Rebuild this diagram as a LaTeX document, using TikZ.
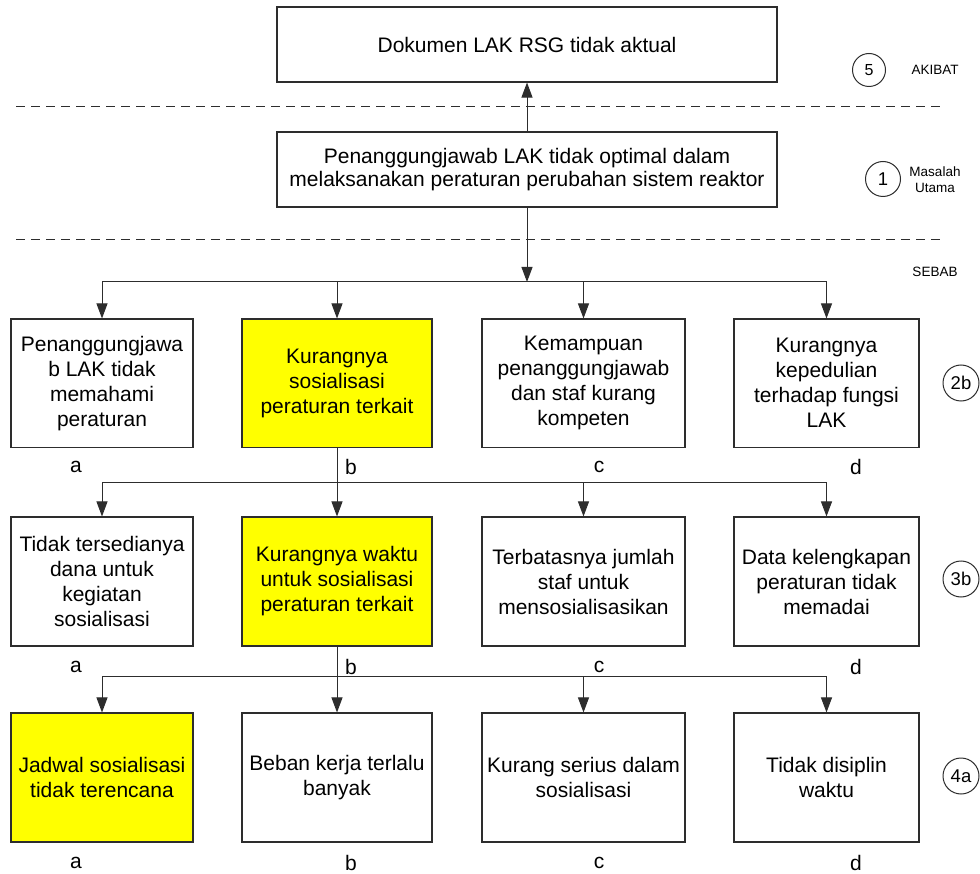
\documentclass[tikz,border=0pt]{standalone}
\usepackage{fontspec}
\setmainfont{Liberation Sans}
\usetikzlibrary{arrows.meta}
\definecolor{ln}{RGB}{45,45,45}
\definecolor{hl}{RGB}{255,255,0}
\begin{document}
\begin{tikzpicture}[x=1pt,y=-1pt,
  box/.style={draw=ln, line width=1.1pt, inner sep=0pt, align=center,
    font=\fontsize{21}{25}\selectfont},
  hlbox/.style={box, fill=hl},
  lbl/.style={inner sep=0pt, font=\fontsize{21}{25}\selectfont},
  num/.style={circle, draw=ln, line width=1pt, inner sep=0pt, minimum size=35pt,
    font=\fontsize{18.5}{20}\selectfont},
  side/.style={inner sep=0pt, align=center, font=\fontsize{13.5}{16}\selectfont},
  conn/.style={draw=ln, line width=1pt},
  arr/.style={conn, -{Triangle[length=15pt,width=11pt]}},
  sep/.style={draw=ln, line width=1pt, dash pattern=on 9pt off 6pt}
]
\useasboundingbox (0,0) rectangle (980,874);
\fill[white] (0,0) rectangle (980,874);

% top boxes
\node[box, minimum width=500pt, minimum height=75pt] (akibat) at (527,44.5) {Dokumen LAK RSG tidak aktual};
\node[box, minimum width=500pt, minimum height=75pt, font=\fontsize{21}{23}\selectfont] (utama) at (527,169.5)
  {Penanggungjawab LAK tidak optimal dalam\\melaksanakan peraturan perubahan sistem reaktor};

% separators
\coordinate (s1a) at (16,107); \coordinate (s1b) at (940,107);
\coordinate (s2a) at (16,240); \coordinate (s2b) at (940,240);
\draw[sep] (s1a) -- (s1b);
\draw[sep] (s2a) -- (s2b);

% side labels
\node[num, minimum size=33pt, font=\fontsize{16}{18}\selectfont] (c5) at (869,70) {5};
\node[side] (tAkibat) at (935,70) {AKIBAT};
\node[num] (c1) at (883,179) {1};
\node[side] (tMasalah) at (935,179.5) {Masalah\\Utama};
\node[side] (tSebab) at (935,272) {SEBAB};
\node[num, minimum size=36pt] (c2b) at (961,383) {2b};
\node[num, minimum size=36pt] (c3b) at (961,579) {3b};
\node[num, minimum size=36pt] (c4a) at (961,776) {4a};

% row 2
\node[box, minimum width=182pt, minimum height=128.5pt] (r2a) at (102,383.25) {Penanggungjawa\\b LAK tidak\\memahami\\peraturan};
\node[hlbox, minimum width=190pt, minimum height=128.5pt] (r2b) at (337,383.25) {Kurangnya\\sosialisasi\\peraturan terkait};
\node[box, minimum width=203pt, minimum height=128.5pt] (r2c) at (583.5,383.25) {Kemampuan\\penanggungjawab\\dan staf kurang\\kompeten};
\node[box, minimum width=185pt, minimum height=128.5pt] (r2d) at (826.5,383.25) {Kurangnya\\kepedulian\\terhadap fungsi\\LAK};

% row 3
\node[box, minimum width=182pt, minimum height=129pt] (r3a) at (102,581.5) {Tidak tersedianya\\dana untuk\\kegiatan\\sosialisasi};
\node[hlbox, minimum width=190pt, minimum height=129pt] (r3b) at (337,581.5) {Kurangnya waktu\\untuk sosialisasi\\peraturan terkait};
\node[box, minimum width=203pt, minimum height=129pt] (r3c) at (583.5,581.5) {Terbatasnya jumlah\\staf untuk\\mensosialisasikan};
\node[box, minimum width=185pt, minimum height=129pt] (r3d) at (826.5,581.5) {Data kelengkapan\\peraturan tidak\\memadai};

% row 4
\node[hlbox, minimum width=182pt, minimum height=129pt] (r4a) at (102,777.5) {Jadwal sosialisasi\\tidak terencana};
\node[box, minimum width=190pt, minimum height=129pt] (r4b) at (337,777.5) {Beban kerja terlalu\\banyak};
\node[box, minimum width=203pt, minimum height=129pt] (r4c) at (583.5,777.5) {Kurang serius dalam\\sosialisasi};
\node[box, minimum width=185pt, minimum height=129pt] (r4d) at (826.5,777.5) {Tidak disiplin\\waktu};

% letters
\foreach \r/\y in {2/467,3/667,4/863}{
  \node[lbl] (l\r a) at (76,\y) {a};
  \node[lbl] (l\r b) at (351,\y) {b};
  \node[lbl] (l\r c) at (599,\y) {c};
  \node[lbl] (l\r d) at (856,\y) {d};
}

% connectors
\draw[arr] (utama.north) -- (akibat.south);
\coordinate (h1) at (527,282);
\draw[arr] (utama.south) -- (h1);
\coordinate (h1a) at (102,282); \coordinate (h1d) at (826.5,282);
\draw[conn] (h1a) -- (h1d);
\foreach \c in {a,b,c,d}{ \draw[arr] (h1a -| r2\c.north) -- (r2\c.north); }

\coordinate (h2a) at (102,482); \coordinate (h2d) at (826.5,482);
\draw[conn] (h2a) -- (h2d);
\draw[arr] (r2b.south) -- (r3b.north);
\foreach \c in {a,c,d}{ \draw[arr] (h2a -| r3\c.north) -- (r3\c.north); }

\coordinate (h3a) at (102,676); \coordinate (h3d) at (826.5,676);
\draw[conn] (h3a) -- (h3d);
\draw[arr] (r3b.south) -- (r4b.north);
\foreach \c in {a,c,d}{ \draw[arr] (h3a -| r4\c.north) -- (r4\c.north); }
\end{tikzpicture}
\end{document}
